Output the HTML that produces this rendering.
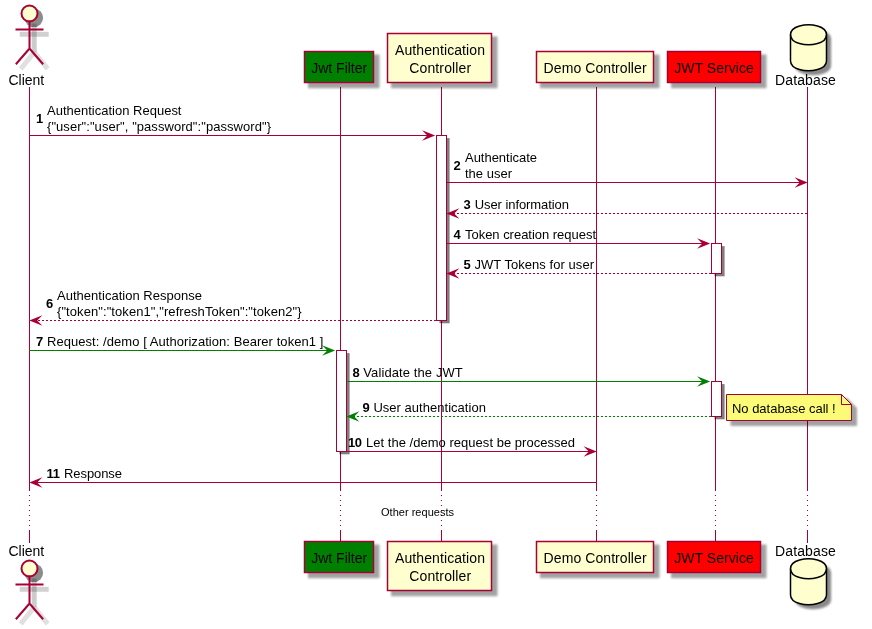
<!DOCTYPE html>
<html lang="en"><head><meta charset="utf-8"><title>JWT authentication sequence</title>
<style>
html,body{margin:0;padding:0;background:#fff;}
svg{display:block;will-change:transform;}
text{font-family:"Liberation Sans", sans-serif;fill:#000;}
</style></head><body>
<svg xmlns="http://www.w3.org/2000/svg" width="872" height="629" viewBox="0 0 872 629">
<defs><filter id="b" x="-50%" y="-50%" width="200%" height="200%"><feGaussianBlur stdDeviation="0.8"/></filter>
<filter id="b3" x="-50%" y="-50%" width="200%" height="200%"><feGaussianBlur stdDeviation="0.7"/></filter>
<filter id="b4" x="-50%" y="-50%" width="200%" height="200%"><feGaussianBlur stdDeviation="1.1"/></filter>
<filter id="b2" x="-50%" y="-50%" width="200%" height="200%"><feGaussianBlur stdDeviation="0.7"/></filter></defs>
<rect width="872" height="629" fill="#fff"/>
<line x1="29.5" y1="87" x2="29.5" y2="490" stroke="#A80036" stroke-width="1"/>
<line x1="29.5" y1="490" x2="29.5" y2="530" stroke="#A80036" stroke-width="1" stroke-dasharray="1,4"/>
<line x1="29.5" y1="530" x2="29.5" y2="543" stroke="#A80036" stroke-width="1"/>
<line x1="340.5" y1="87" x2="340.5" y2="490" stroke="#A80036" stroke-width="1"/>
<line x1="340.5" y1="490" x2="340.5" y2="530" stroke="#A80036" stroke-width="1" stroke-dasharray="1,4"/>
<line x1="340.5" y1="530" x2="340.5" y2="543" stroke="#A80036" stroke-width="1"/>
<line x1="441.5" y1="87" x2="441.5" y2="490" stroke="#A80036" stroke-width="1"/>
<line x1="441.5" y1="490" x2="441.5" y2="530" stroke="#A80036" stroke-width="1" stroke-dasharray="1,4"/>
<line x1="441.5" y1="530" x2="441.5" y2="543" stroke="#A80036" stroke-width="1"/>
<line x1="596.5" y1="87" x2="596.5" y2="490" stroke="#A80036" stroke-width="1"/>
<line x1="596.5" y1="490" x2="596.5" y2="530" stroke="#A80036" stroke-width="1" stroke-dasharray="1,4"/>
<line x1="596.5" y1="530" x2="596.5" y2="543" stroke="#A80036" stroke-width="1"/>
<line x1="715.5" y1="87" x2="715.5" y2="490" stroke="#A80036" stroke-width="1"/>
<line x1="715.5" y1="490" x2="715.5" y2="530" stroke="#A80036" stroke-width="1" stroke-dasharray="1,4"/>
<line x1="715.5" y1="530" x2="715.5" y2="543" stroke="#A80036" stroke-width="1"/>
<line x1="807.5" y1="87" x2="807.5" y2="490" stroke="#A80036" stroke-width="1"/>
<line x1="807.5" y1="490" x2="807.5" y2="530" stroke="#A80036" stroke-width="1" stroke-dasharray="1,4"/>
<line x1="807.5" y1="530" x2="807.5" y2="543" stroke="#A80036" stroke-width="1"/>
<rect x="439.5" y="138.1" width="10.1" height="185.2" fill="#000" opacity="0.5" filter="url(#b3)"/>
<rect x="436.5" y="135.5" width="10" height="185.0" fill="#fff" stroke="#A80036" stroke-width="1"/>
<rect x="714.5" y="246.1" width="10.1" height="30.2" fill="#000" opacity="0.5" filter="url(#b3)"/>
<rect x="711.5" y="243.5" width="10" height="30.0" fill="#fff" stroke="#A80036" stroke-width="1"/>
<rect x="339.5" y="353.1" width="10.1" height="101.2" fill="#000" opacity="0.5" filter="url(#b3)"/>
<rect x="336.5" y="350.5" width="10" height="101.0" fill="#fff" stroke="#A80036" stroke-width="1"/>
<rect x="714.5" y="384.1" width="10.1" height="35.2" fill="#000" opacity="0.5" filter="url(#b3)"/>
<rect x="711.5" y="381.5" width="10" height="35.0" fill="#fff" stroke="#A80036" stroke-width="1"/>
<g filter="url(#b2)" fill="none" stroke="#000" stroke-width="5"><circle cx="33.8" cy="17.8" r="9.3" fill="#000" stroke="none" opacity="0.45"/><path d="M19.7,34.3 H48.7" opacity="0.18"/><path d="M34.2,23.5 V52.3" opacity="0.2"/><path d="M34.2,52.3 L20.7,68.8" opacity="0.12"/><path d="M34.2,52.3 L47.7,68.8" opacity="0.12"/></g>
<circle cx="29.5" cy="13.5" r="8" fill="#FEFECE" stroke="#A80036" stroke-width="2"/>
<path d="M29.5,21.5 V48.5 M16.5,29.5 H42.5 M29.5,48.5 L16.5,63.5 M29.5,48.5 L42.5,63.5" fill="none" stroke="#A80036" stroke-width="2" stroke-linecap="square"/>
<text x="8.5" y="85" font-size="14" textLength="35.7" lengthAdjust="spacing">Client</text>
<rect x="308.0" y="54.5" width="71.5" height="33.7" fill="#000" opacity="0.36" filter="url(#b)"/>
<rect x="304.5" y="51.5" width="69" height="31" fill="#008000" stroke="#A80036" stroke-width="1.5"/>
<text x="311.2" y="73" font-size="14" textLength="56" lengthAdjust="spacing">Jwt Filter</text>
<rect x="391.0" y="36.5" width="106.5" height="51.7" fill="#000" opacity="0.36" filter="url(#b)"/>
<rect x="387.5" y="33.5" width="104" height="49" fill="#FEFECE" stroke="#A80036" stroke-width="1.5"/>
<text x="395" y="55" font-size="14" textLength="90" lengthAdjust="spacing">Authentication</text>
<text x="409.2" y="73" font-size="14" textLength="62" lengthAdjust="spacing">Controller</text>
<rect x="540.0" y="54.5" width="119.5" height="33.7" fill="#000" opacity="0.36" filter="url(#b)"/>
<rect x="536.5" y="51.5" width="117" height="31" fill="#FEFECE" stroke="#A80036" stroke-width="1.5"/>
<text x="543.6" y="73" font-size="14" textLength="103" lengthAdjust="spacing">Demo Controller</text>
<rect x="671.0" y="54.5" width="95.5" height="33.7" fill="#000" opacity="0.36" filter="url(#b)"/>
<rect x="667.5" y="51.5" width="93" height="31" fill="#FF0000" stroke="#A80036" stroke-width="1.5"/>
<text x="674.3" y="73" font-size="14" textLength="79.5" lengthAdjust="spacing">JWT Service</text>
<path d="M790.5,34.75 C790.5,24.75 808.5,24.75 808.5,24.75 C808.5,24.75 826.5,24.75 826.5,34.75 L826.5,60.75 C826.5,70.75 808.5,70.75 808.5,70.75 C808.5,70.75 790.5,70.75 790.5,60.75 Z" fill="#000" opacity="0.46" filter="url(#b4)" transform="translate(4.6,4.6)"/>
<path d="M790.5,34.75 C790.5,24.75 808.5,24.75 808.5,24.75 C808.5,24.75 826.5,24.75 826.5,34.75 L826.5,60.75 C826.5,70.75 808.5,70.75 808.5,70.75 C808.5,70.75 790.5,70.75 790.5,60.75 Z" fill="#FEFECE" stroke="#000" stroke-width="1.5"/>
<path d="M790.5,34.75 C790.5,44.75 808.5,44.75 808.5,44.75 C808.5,44.75 826.5,44.75 826.5,34.75" fill="none" stroke="#000" stroke-width="1.5"/>
<text x="775.1" y="85" font-size="14" textLength="60.7" lengthAdjust="spacing">Database</text>
<g filter="url(#b2)" fill="none" stroke="#000" stroke-width="5"><circle cx="33.8" cy="572.8" r="9.3" fill="#000" stroke="none" opacity="0.45"/><path d="M19.7,589.3 H48.7" opacity="0.18"/><path d="M34.2,578.5 V607.3" opacity="0.2"/><path d="M34.2,607.3 L20.7,623.8" opacity="0.12"/><path d="M34.2,607.3 L47.7,623.8" opacity="0.12"/></g>
<circle cx="29.5" cy="568.5" r="8" fill="#FEFECE" stroke="#A80036" stroke-width="2"/>
<path d="M29.5,576.5 V603.5 M16.5,584.5 H42.5 M29.5,603.5 L16.5,618.5 M29.5,603.5 L42.5,618.5" fill="none" stroke="#A80036" stroke-width="2" stroke-linecap="square"/>
<text x="8.5" y="556" font-size="14" textLength="35.7" lengthAdjust="spacing">Client</text>
<rect x="308.0" y="544.5" width="71.5" height="33.7" fill="#000" opacity="0.36" filter="url(#b)"/>
<rect x="304.5" y="541.5" width="69" height="31" fill="#008000" stroke="#A80036" stroke-width="1.5"/>
<text x="311.2" y="563" font-size="14" textLength="56" lengthAdjust="spacing">Jwt Filter</text>
<rect x="391.0" y="544.5" width="106.5" height="51.7" fill="#000" opacity="0.36" filter="url(#b)"/>
<rect x="387.5" y="541.5" width="104" height="49" fill="#FEFECE" stroke="#A80036" stroke-width="1.5"/>
<text x="395" y="563" font-size="14" textLength="90" lengthAdjust="spacing">Authentication</text>
<text x="409.2" y="581" font-size="14" textLength="62" lengthAdjust="spacing">Controller</text>
<rect x="540.0" y="544.5" width="119.5" height="33.7" fill="#000" opacity="0.36" filter="url(#b)"/>
<rect x="536.5" y="541.5" width="117" height="31" fill="#FEFECE" stroke="#A80036" stroke-width="1.5"/>
<text x="543.6" y="563" font-size="14" textLength="103" lengthAdjust="spacing">Demo Controller</text>
<rect x="671.0" y="544.5" width="95.5" height="33.7" fill="#000" opacity="0.36" filter="url(#b)"/>
<rect x="667.5" y="541.5" width="93" height="31" fill="#FF0000" stroke="#A80036" stroke-width="1.5"/>
<text x="674.3" y="563" font-size="14" textLength="79.5" lengthAdjust="spacing">JWT Service</text>
<path d="M790.5,568.75 C790.5,558.75 808.5,558.75 808.5,558.75 C808.5,558.75 826.5,558.75 826.5,568.75 L826.5,594.75 C826.5,604.75 808.5,604.75 808.5,604.75 C808.5,604.75 790.5,604.75 790.5,594.75 Z" fill="#000" opacity="0.46" filter="url(#b4)" transform="translate(4.6,4.6)"/>
<path d="M790.5,568.75 C790.5,558.75 808.5,558.75 808.5,558.75 C808.5,558.75 826.5,558.75 826.5,568.75 L826.5,594.75 C826.5,604.75 808.5,604.75 808.5,604.75 C808.5,604.75 790.5,604.75 790.5,594.75 Z" fill="#FEFECE" stroke="#000" stroke-width="1.5"/>
<path d="M790.5,568.75 C790.5,578.75 808.5,578.75 808.5,578.75 C808.5,578.75 826.5,578.75 826.5,568.75" fill="none" stroke="#000" stroke-width="1.5"/>
<text x="775.1" y="556" font-size="14" textLength="60.7" lengthAdjust="spacing">Database</text>
<polygon points="422.1,130.2 435.2,135.5 422.1,140.8 427.3,135.5" fill="#A80036"/>
<line x1="29.5" y1="135.5" x2="429" y2="135.5" stroke="#A80036" stroke-width="1"/>
<text transform="translate(0 123) scale(1 1.05)" x="36" y="0" font-size="13" font-weight="bold" textLength="7" lengthAdjust="spacing">1</text>
<text transform="translate(0 115) scale(1 1.05)" x="47" y="0" font-size="13" textLength="134.5" lengthAdjust="spacing">Authentication Request</text>
<text transform="translate(0 131) scale(1 1.05)" x="47" y="0" font-size="13" textLength="224" lengthAdjust="spacing">{"user":"user", "password":"password"}</text>
<polygon points="794.6,177.2 807.7,182.5 794.6,187.8 799.8,182.5" fill="#A80036"/>
<line x1="446.5" y1="182.5" x2="801.5" y2="182.5" stroke="#A80036" stroke-width="1"/>
<text transform="translate(0 170) scale(1 1.05)" x="453.5" y="0" font-size="13" font-weight="bold" textLength="7" lengthAdjust="spacing">2</text>
<text transform="translate(0 162) scale(1 1.05)" x="465" y="0" font-size="13" textLength="72" lengthAdjust="spacing">Authenticate</text>
<text transform="translate(0 178) scale(1 1.05)" x="465" y="0" font-size="13" textLength="47" lengthAdjust="spacing">the user</text>
<polygon points="459.4,208.2 446.3,213.5 459.4,218.8 454.2,213.5" fill="#A80036"/>
<line x1="807" y1="213.5" x2="452.5" y2="213.5" stroke="#A80036" stroke-width="1" stroke-dasharray="2,2"/>
<text transform="translate(0 209) scale(1 1.05)" x="463.5" y="0" font-size="13" font-weight="bold" textLength="7" lengthAdjust="spacing">3</text>
<text transform="translate(0 209) scale(1 1.05)" x="474.7" y="0" font-size="13" textLength="94.3" lengthAdjust="spacing">User information</text>
<polygon points="697.1,238.2 710.2,243.5 697.1,248.8 702.3,243.5" fill="#A80036"/>
<line x1="446.5" y1="243.5" x2="704" y2="243.5" stroke="#A80036" stroke-width="1"/>
<text transform="translate(0 239) scale(1 1.05)" x="453.5" y="0" font-size="13" font-weight="bold" textLength="7" lengthAdjust="spacing">4</text>
<text transform="translate(0 239) scale(1 1.05)" x="465" y="0" font-size="13" textLength="131" lengthAdjust="spacing">Token creation request</text>
<polygon points="459.4,268.2 446.3,273.5 459.4,278.8 454.2,273.5" fill="#A80036"/>
<line x1="711" y1="273.5" x2="452.5" y2="273.5" stroke="#A80036" stroke-width="1" stroke-dasharray="2,2"/>
<text transform="translate(0 269) scale(1 1.05)" x="463.5" y="0" font-size="13" font-weight="bold" textLength="7" lengthAdjust="spacing">5</text>
<text transform="translate(0 269) scale(1 1.05)" x="474.4" y="0" font-size="13" textLength="119.6" lengthAdjust="spacing">JWT Tokens for user</text>
<polygon points="42.4,315.2 29.3,320.5 42.4,325.8 37.2,320.5" fill="#A80036"/>
<line x1="436" y1="320.5" x2="35.5" y2="320.5" stroke="#A80036" stroke-width="1" stroke-dasharray="2,2"/>
<text transform="translate(0 308) scale(1 1.05)" x="46" y="0" font-size="13" font-weight="bold" textLength="7" lengthAdjust="spacing">6</text>
<text transform="translate(0 300) scale(1 1.05)" x="57" y="0" font-size="13" textLength="145" lengthAdjust="spacing">Authentication Response</text>
<text transform="translate(0 316) scale(1 1.05)" x="57" y="0" font-size="13" textLength="244.6" lengthAdjust="spacing">{"token":"token1","refreshToken":"token2"}</text>
<polygon points="322.1,345.2 335.2,350.5 322.1,355.8 327.3,350.5" fill="#008000"/>
<line x1="29.5" y1="350.5" x2="329" y2="350.5" stroke="#008000" stroke-width="1"/>
<text transform="translate(0 346) scale(1 1.05)" x="36" y="0" font-size="13" font-weight="bold" textLength="7" lengthAdjust="spacing">7</text>
<text transform="translate(0 346) scale(1 1.05)" x="47" y="0" font-size="13" textLength="276.3" lengthAdjust="spacing">Request: /demo [ Authorization: Bearer token1 ]</text>
<polygon points="697.1,376.2 710.2,381.5 697.1,386.8 702.3,381.5" fill="#008000"/>
<line x1="346.5" y1="381.5" x2="704" y2="381.5" stroke="#008000" stroke-width="1"/>
<text transform="translate(0 377) scale(1 1.05)" x="352.4" y="0" font-size="13" font-weight="bold" textLength="7" lengthAdjust="spacing">8</text>
<text transform="translate(0 377) scale(1 1.05)" x="363.3" y="0" font-size="13" textLength="99.5" lengthAdjust="spacing">Validate the JWT</text>
<polygon points="359.4,411.2 346.3,416.5 359.4,421.8 354.2,416.5" fill="#008000"/>
<line x1="711" y1="416.5" x2="352.5" y2="416.5" stroke="#008000" stroke-width="1" stroke-dasharray="2,2"/>
<text transform="translate(0 412) scale(1 1.05)" x="362.4" y="0" font-size="13" font-weight="bold" textLength="7" lengthAdjust="spacing">9</text>
<text transform="translate(0 412) scale(1 1.05)" x="373.4" y="0" font-size="13" textLength="112.5" lengthAdjust="spacing">User authentication</text>
<path d="M730.5,398 L730.5,426 L857,426 L857,408 L847,398 Z" fill="#000" opacity="0.36" filter="url(#b)"/>
<path d="M726.5,394.5 L726.5,420.5 L851.5,420.5 L851.5,404.5 L841.5,394.5 Z" fill="#FBFB77" stroke="#A80036" stroke-width="1"/>
<path d="M841.5,394.5 L841.5,404.5 L851.5,404.5" fill="none" stroke="#A80036" stroke-width="1"/>
<text transform="translate(0 413) scale(1 1.05)" x="732" y="0" font-size="13" textLength="103.7" lengthAdjust="spacing">No database call !</text>
<polygon points="583.6,446.2 596.7,451.5 583.6,456.8 588.8,451.5" fill="#A80036"/>
<line x1="346.5" y1="451.5" x2="590.5" y2="451.5" stroke="#A80036" stroke-width="1"/>
<text transform="translate(0 447) scale(1 1.05)" x="348" y="0" font-size="13" font-weight="bold" textLength="14" lengthAdjust="spacing">10</text>
<text transform="translate(0 447) scale(1 1.05)" x="366" y="0" font-size="13" textLength="209" lengthAdjust="spacing">Let the /demo request be processed</text>
<polygon points="42.4,477.2 29.3,482.5 42.4,487.8 37.2,482.5" fill="#A80036"/>
<line x1="596" y1="482.5" x2="35.5" y2="482.5" stroke="#A80036" stroke-width="1"/>
<text transform="translate(0 478) scale(1 1.05)" x="46.5" y="0" font-size="13" font-weight="bold" textLength="13.5" lengthAdjust="spacing">11</text>
<text transform="translate(0 478) scale(1 1.05)" x="64" y="0" font-size="13" textLength="58" lengthAdjust="spacing">Response</text>
<text x="381" y="516" font-size="11" textLength="73" lengthAdjust="spacing">Other requests</text>
</svg>
</body></html>
